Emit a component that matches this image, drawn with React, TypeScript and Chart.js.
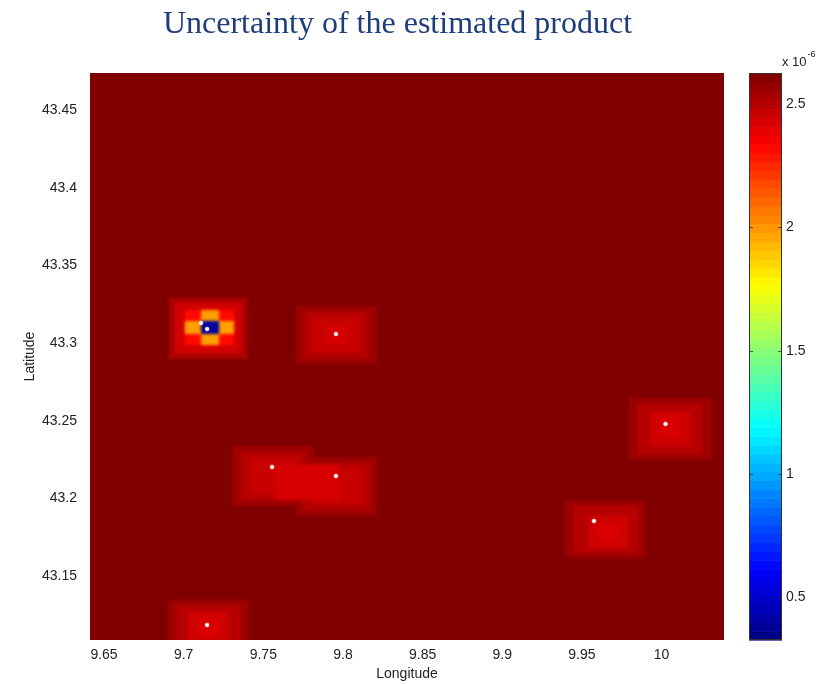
import React, { useEffect, useRef } from "react";
import { Chart, registerables } from "chart.js";

Chart.register(...registerables);

// ---- text ----
const TITLE = "Uncertainty of the estimated product";
const X_TITLE = "Longitude";
const Y_TITLE = "Latitude";
const CB_EXPONENT_BASE = "x 10";
const CB_EXPONENT = "-6";

// ---- axes ----
const X_TICKS = [9.65, 9.7, 9.75, 9.8, 9.85, 9.9, 9.95, 10];
const Y_TICKS = [43.15, 43.2, 43.25, 43.3, 43.35, 43.4, 43.45];
const CB_TICKS = [0.5, 1, 1.5, 2, 2.5];
const CB_TICK_LABELS = ["0.5", "1", "1.5", "2", "2.5"];
const X_RANGE = [9.6412, 10.0392];
const Y_RANGE = [43.1088, 43.4738];
const C_RANGE = [0.326, 2.626]; // x 1e-6

// ---- field: background value + patches (painted in order) ----
const BACKGROUND_VALUE = 2.626;
const PATCH_LON0 = [
  9.6908, 9.6946, 9.7008, 9.7109, 9.7008, 9.7109,
  9.7705, 9.7756, 9.7806, 9.7894,
  9.7304, 9.7705, 9.7354, 9.7743, 9.7417, 9.7806, 9.7573,
  9.9394, 9.945, 9.9538, 9.9601,
  9.9796, 9.9852, 9.9928, 9.999,
  9.6902, 9.6952, 9.7027, 9.709,
];
const PATCH_LON1 = [
  9.7398, 9.736, 9.7316, 9.7222, 9.7316, 9.7222,
  9.8214, 9.8157, 9.8107, 9.8019,
  9.7818, 9.8214, 9.7768, 9.817, 9.7718, 9.812, 9.7981,
  9.9903, 9.9852, 9.9789, 9.9727,
  10.0317, 10.0254, 10.0179, 10.0116,
  9.741, 9.736, 9.7278, 9.7216,
];
const PATCH_LAT0 = [
  43.2897, 43.2936, 43.2987, 43.2987, 43.3058, 43.3058,
  43.2865, 43.2903, 43.2942, 43.2994,
  43.1951, 43.1886, 43.1989, 43.1925, 43.2028, 43.1964, 43.1989,
  43.1616, 43.1648, 43.168, 43.1719,
  43.2247, 43.2285, 43.2337, 43.2401,
  43.0959, 43.0959, 43.0959, 43.1114,
];
const PATCH_LAT1 = [
  43.329, 43.3258, 43.3212, 43.3212, 43.3142, 43.3142,
  43.3238, 43.32, 43.3161, 43.3109,
  43.2337, 43.2266, 43.2298, 43.2228, 43.226, 43.2195, 43.2215,
  43.1983, 43.1951, 43.1886, 43.1835,
  43.2646, 43.2607, 43.2556, 43.253,
  43.1346, 43.1307, 43.1268, 43.123,
];
const PATCH_VALUE = [
  2.52, 2.44, 2.32, 1.98, 1.98, 0.4,
  2.56, 2.5, 2.46, 2.43,
  2.56, 2.56, 2.5, 2.5, 2.46, 2.46, 2.43,
  2.56, 2.5, 2.45, 2.42,
  2.56, 2.5, 2.45, 2.42,
  2.56, 2.5, 2.45, 2.42,
];

// ---- stations ----
const STATION_LON = [9.7109, 9.7147, 9.7956, 9.7555, 9.7956, 9.9576, 10.0025, 9.7147];
const STATION_LAT = [43.3129, 43.309, 43.3058, 43.2202, 43.2144, 43.1854, 43.2479, 43.1185];

// ---- styles ----
const SANS = "'Liberation Sans', Arial, sans-serif";
const SERIF = "'Liberation Serif', 'Times New Roman', serif";
const TEXT_COLOR = "#222";

const clamp01 = (v: number) => Math.max(0, Math.min(1, v));
function jet(t: number): string {
  t = clamp01(t);
  const r = clamp01(Math.min(4 * t - 1.5, -4 * t + 4.5));
  const g = clamp01(Math.min(4 * t - 0.5, -4 * t + 3.5));
  const b = clamp01(Math.min(4 * t + 0.5, -4 * t + 2.5));
  return `rgb(${Math.round(r * 255)},${Math.round(g * 255)},${Math.round(b * 255)})`;
}
const colorOf = (v: number) => jet((v - C_RANGE[0]) / (C_RANGE[1] - C_RANGE[0]));
const fmt = (v: any) => String(Number(Number(v).toFixed(2)));

const heatmapPlugin = {
  id: "heatmap",
  beforeDatasetsDraw(chart: any) {
    const { ctx, chartArea: a } = chart;
    const xs = chart.scales.x;
    const ys = chart.scales.y;
    ctx.save();
    ctx.beginPath();
    ctx.rect(a.left, a.top, a.right - a.left, a.bottom - a.top);
    ctx.clip();
    const rect = (lon0: number, lon1: number, lat0: number, lat1: number, v: number) => {
      const px0 = xs.getPixelForValue(lon0);
      const px1 = xs.getPixelForValue(lon1);
      const py0 = ys.getPixelForValue(lat1);
      const py1 = ys.getPixelForValue(lat0);
      ctx.fillStyle = colorOf(v);
      ctx.fillRect(px0, py0, px1 - px0, py1 - py0);
    };
    rect(X_RANGE[0], X_RANGE[1], Y_RANGE[0], Y_RANGE[1], BACKGROUND_VALUE);
    ctx.filter = "blur(1.4px)";
    PATCH_VALUE.forEach((v, i) => rect(PATCH_LON0[i], PATCH_LON1[i], PATCH_LAT0[i], PATCH_LAT1[i], v));
    ctx.filter = "none";
    ctx.restore();
  },
  afterDraw(chart: any) {
    const { ctx } = chart;
    const cb = chart.scales.cb;
    const bx0 = cb.left + 25;
    const bx1 = cb.left + 58;
    const N = 64;
    const span = C_RANGE[1] - C_RANGE[0];
    ctx.save();
    for (let k = 0; k < N; k++) {
      const v0 = C_RANGE[0] + (k * span) / N;
      const v1 = C_RANGE[0] + ((k + 1) * span) / N;
      const py0 = cb.getPixelForValue(v1);
      const py1 = cb.getPixelForValue(v0);
      ctx.fillStyle = jet((k + 0.5) / N);
      ctx.fillRect(bx0, py0, bx1 - bx0, py1 - py0 + 0.6);
    }
    ctx.strokeStyle = "#333";
    ctx.lineWidth = 1;
    ctx.strokeRect(bx0 + 0.5, cb.top + 0.5, bx1 - bx0 - 1, cb.bottom - cb.top - 1);
    ctx.font = `14px ${SANS}`;
    ctx.textBaseline = "middle";
    ctx.textAlign = "left";
    CB_TICKS.forEach((t, i) => {
      const py = Math.round(cb.getPixelForValue(t)) + 0.5;
      ctx.strokeStyle = "rgba(50,50,50,0.8)";
      ctx.beginPath();
      ctx.moveTo(bx0, py);
      ctx.lineTo(bx0 + 4, py);
      ctx.moveTo(bx1 - 4, py);
      ctx.lineTo(bx1, py);
      ctx.stroke();
      ctx.fillStyle = TEXT_COLOR;
      ctx.fillText(CB_TICK_LABELS[i], bx1 + 4, py);
    });
    ctx.fillStyle = TEXT_COLOR;
    ctx.font = `13px ${SANS}`;
    const baseY = cb.top - 11;
    ctx.fillText(CB_EXPONENT_BASE, bx1, baseY);
    const w = ctx.measureText(CB_EXPONENT_BASE).width;
    ctx.font = `9px ${SANS}`;
    ctx.fillText(CB_EXPONENT, bx1 + w + 1, baseY - 7);
    ctx.restore();
  },
};

export default function App() {
  const ref = useRef<HTMLCanvasElement>(null);
  useEffect(() => {
    const tickFont = { family: SANS, size: 14 };
    const chart = new Chart(ref.current as HTMLCanvasElement, {
      type: "scatter",
      data: {
        datasets: [
          {
            data: STATION_LON.map((lon, i) => ({ x: lon, y: STATION_LAT[i] })),
            xAxisID: "x",
            yAxisID: "y",
            pointRadius: 2,
            pointBackgroundColor: "#ffffff",
            pointBorderColor: "rgba(255,210,210,0.6)",
            pointBorderWidth: 1,
          },
        ],
      },
      options: {
        animation: false,
        responsive: false,
        events: [],
        layout: { padding: { left: 0, right: 36, top: 0, bottom: 0 } },
        plugins: {
          legend: { display: false },
          tooltip: { enabled: false },
          title: {
            display: true,
            text: TITLE,
            color: "#1F3D7A",
            font: { family: SERIF, size: 32, weight: "normal", lineHeight: 1.2 },
            padding: { top: 5, bottom: 29.6 },
          },
        },
        scales: {
          x: {
            type: "linear",
            position: "bottom",
            min: X_RANGE[0],
            max: X_RANGE[1],
            grid: { display: false, drawTicks: false, tickLength: 0 },
            border: { display: false },
            afterBuildTicks: (s: any) => {
              s.ticks = X_TICKS.map((v) => ({ value: v }));
            },
            afterFit: (s: any) => {
              s.height = 44;
            },
            ticks: {
              padding: 6.6,
              font: tickFont,
              color: TEXT_COLOR,
              maxRotation: 0,
              autoSkip: false,
              callback: (v: any) => fmt(v),
            },
            title: {
              display: true,
              text: X_TITLE,
              color: TEXT_COLOR,
              font: { family: SANS, size: 14 },
              padding: { top: 1, bottom: 1 },
            },
          },
          y: {
            type: "linear",
            position: "left",
            min: Y_RANGE[0],
            max: Y_RANGE[1],
            grid: { display: false, drawTicks: false, tickLength: 0 },
            border: { display: false },
            afterBuildTicks: (s: any) => {
              s.ticks = Y_TICKS.map((v) => ({ value: v }));
            },
            afterFit: (s: any) => {
              s.width = 90;
            },
            ticks: {
              padding: 13,
              font: tickFont,
              color: TEXT_COLOR,
              autoSkip: false,
              callback: (v: any) => fmt(v),
            },
            title: {
              display: true,
              text: Y_TITLE,
              color: TEXT_COLOR,
              font: { family: SANS, size: 14 },
              padding: { top: 22, bottom: 22 },
            },
          },
          cb: {
            type: "linear",
            position: "right",
            min: C_RANGE[0],
            max: C_RANGE[1],
            grid: { display: false, drawTicks: false, tickLength: 0 },
            border: { display: false },
            afterBuildTicks: (s: any) => {
              s.ticks = CB_TICKS.map((v) => ({ value: v }));
            },
            afterFit: (s: any) => {
              s.width = 71;
            },
            ticks: { display: false, padding: 0 },
          },
        },
      } as any,
      plugins: [heatmapPlugin],
    });
    return () => chart.destroy();
  }, []);
  return (
    <div style={{ position: "fixed", left: 0, top: 0, width: 831, height: 684, background: "#fff" }}>
      <canvas ref={ref} width={831} height={684} style={{ display: "block", width: 831, height: 684 }} />
    </div>
  );
}
